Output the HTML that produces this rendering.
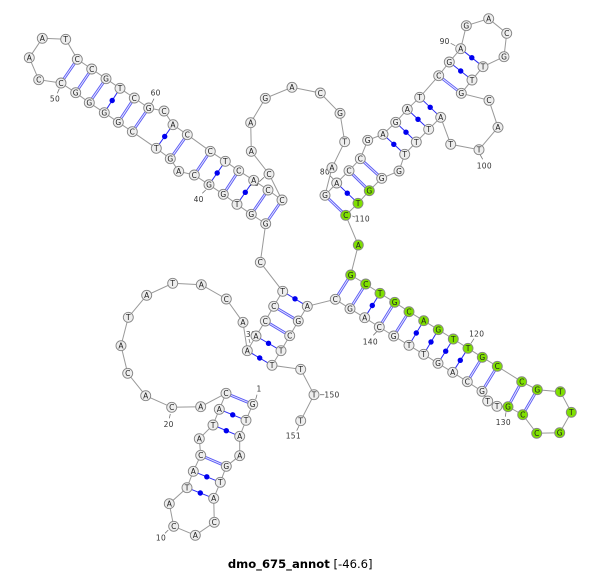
<!DOCTYPE html>
<html><head><meta charset="utf-8"><style>
html,body{margin:0;padding:0;background:#fff;width:600px;height:572px;overflow:hidden}
svg{display:block}
.n circle{fill:#eee;stroke:#858585;stroke-width:.9}
.n circle.g{fill:#7fe000}
.n text{font:7.5px "DejaVu Sans",sans-serif;fill:#222;text-anchor:middle}
.l text{font:7.5px "DejaVu Sans",sans-serif;fill:#333;text-anchor:middle;letter-spacing:.3px}
.l path{stroke:#777;stroke-width:.8;fill:none}
</style></head><body>
<svg width="600" height="572" viewBox="0 0 600 572" xmlns="http://www.w3.org/2000/svg">
<polyline fill="none" stroke="#999" stroke-width="1" points="252.7,404.3 246,420.3 239.7,436.3 239.7,455.7 226.3,466.3 220.3,482.3 213.7,498.3 214.3,522.3 195.3,535.3 173.7,526.3 169.3,503.7 187,487.7 193.3,471.3 200.7,455.3 199.3,438.7 213,425 219.3,409.3 226,393.3 200.7,406.7 171.7,407.3 145.7,395.7 127.7,373.3 121,345.7 128.3,317.3 146.7,295.3 172.7,283.3 201.3,284.7 226.3,299 243,322.3 247.3,350.7 256,336 265.3,321 273.7,306.3 282.7,291.3 260.3,262.3 265.7,223.7 251.3,214.3 237,204.3 223.3,194.3 209,184.7 194.3,175 178.7,171.3 170.3,158.7 156.3,148.3 132.3,131.7 118.3,122.3 104.3,112.7 89.3,102.7 75.7,92.7 61,83 38.7,79.7 29.3,57.7 42.3,38.3 65.7,39.3 77.3,59.3 91.7,69 106,78.7 120,88.3 134.3,98 148.7,108 164,111 173,124.7 187.3,134.7 210.3,151.3 225.3,161.3 238.7,170.7 253.7,180.3 268,190 282,200 269,174 251.3,151.3 250.7,122.7 265.3,98.3 292,87.3 320.3,93 340,113.3 344.7,141.7 332,167.7 325,195.3 336.7,183 349,170.7 360.3,158.7 367.7,140.3 383,134.3 395.7,122.3 407.3,109.3 419.7,97.3 438.7,75.7 449.3,62 460.7,48.7 466.3,25.7 488.7,18.7 506.7,33.3 504,56.7 483,66.7 472,80 461.3,93.3 489,100.3 498,127.3 479,149.7 450.7,144.3 440.7,117.3 428.7,129.3 416.3,142 404.7,154.3 399,171 381.7,178.3 369.3,190.7 358,203.3 345.7,215.3 358.3,245 350.7,275 365.7,284 380,293.3 394.7,302.3 409,311.7 423.7,320.7 438.3,329.7 453.3,339 468,348.3 482.3,357.3 497.3,366.3 521.7,381.7 537.3,389.7 560.3,391.7 571.3,412.3 559.7,432.7 536.7,433.3 522.7,414.7 508,406.7 497,406.3 487.7,401 482,391.3 467.3,381.7 452.7,372.3 438,363.3 423.7,354.3 409,345.3 393.7,336 379.3,327 364.7,317.7 350,308.7 335.3,299.3 307.3,306.3 298.3,321 289.7,335.7 281,350.7 272,365.3 300.7,369.3 314,394.7 300.7,420.7"/>
<path fill="none" stroke="#5a5af5" stroke-width="2.8" d="M252.7 404.3L226 393.3M226.3 466.3L200.7 455.3M265.3 321L289.7 335.7M273.7 306.3L298.3 321M265.7 223.7L282 200M251.3 214.3L268 190M223.3 194.3L238.7 170.7M194.3 175L210.3 151.3M170.3 158.7L187.3 134.7M132.3 131.7L148.7 108M118.3 122.3L134.3 98M89.3 102.7L106 78.7M75.7 92.7L91.7 69M61 83L77.3 59.3M325 195.3L345.7 215.3M349 170.7L369.3 190.7M360.3 158.7L381.7 178.3M438.7 75.7L461.3 93.3M350.7 275L335.3 299.3M365.7 284L350 308.7M394.7 302.3L379.3 327M409 311.7L393.7 336M482.3 357.3L467.3 381.7M497.3 366.3L482 391.3M521.7 381.7L508 406.7M537.3 389.7L522.7 414.7"/>
<path fill="none" stroke="#e4e4ff" stroke-width="1" d="M252.7 404.3L226 393.3M226.3 466.3L200.7 455.3M265.3 321L289.7 335.7M273.7 306.3L298.3 321M265.7 223.7L282 200M251.3 214.3L268 190M223.3 194.3L238.7 170.7M194.3 175L210.3 151.3M170.3 158.7L187.3 134.7M132.3 131.7L148.7 108M118.3 122.3L134.3 98M89.3 102.7L106 78.7M75.7 92.7L91.7 69M61 83L77.3 59.3M325 195.3L345.7 215.3M349 170.7L369.3 190.7M360.3 158.7L381.7 178.3M438.7 75.7L461.3 93.3M350.7 275L335.3 299.3M365.7 284L350 308.7M394.7 302.3L379.3 327M409 311.7L393.7 336M482.3 357.3L467.3 381.7M497.3 366.3L482 391.3M521.7 381.7L508 406.7M537.3 389.7L522.7 414.7"/>
<path fill="none" stroke="#2a2af5" stroke-width="1" d="M246 420.3L219.3 409.3M239.7 436.3L213 425M220.3 482.3L193.3 471.3M213.7 498.3L187 487.7M247.3 350.7L272 365.3M256 336L281 350.7M282.7 291.3L307.3 306.3M237 204.3L253.7 180.3M209 184.7L225.3 161.3M156.3 148.3L173 124.7M104.3 112.7L120 88.3M336.7 183L358 203.3M383 134.3L404.7 154.3M395.7 122.3L416.3 142M407.3 109.3L428.7 129.3M419.7 97.3L440.7 117.3M449.3 62L472 80M460.7 48.7L483 66.7M380 293.3L364.7 317.7M423.7 320.7L409 345.3M438.3 329.7L423.7 354.3M453.3 339L438 363.3M468 348.3L452.7 372.3"/>
<g fill="#0000f0">
<circle cx="232.7" cy="414.8" r="2.7"/><circle cx="226.3" cy="430.7" r="2.7"/><circle cx="206.8" cy="476.8" r="2.7"/><circle cx="200.3" cy="493" r="2.7"/><circle cx="259.7" cy="358" r="2.7"/><circle cx="268.5" cy="343.3" r="2.7"/><circle cx="295" cy="298.8" r="2.7"/><circle cx="245.3" cy="192.3" r="2.7"/><circle cx="217.2" cy="173" r="2.7"/><circle cx="164.7" cy="136.5" r="2.7"/><circle cx="112.2" cy="100.5" r="2.7"/><circle cx="347.3" cy="193.2" r="2.7"/><circle cx="393.8" cy="144.3" r="2.7"/><circle cx="406" cy="132.2" r="2.7"/><circle cx="418" cy="119.3" r="2.7"/><circle cx="430.2" cy="107.3" r="2.7"/><circle cx="460.7" cy="71" r="2.7"/><circle cx="471.8" cy="57.7" r="2.7"/><circle cx="372.3" cy="305.5" r="2.7"/><circle cx="416.3" cy="333" r="2.7"/><circle cx="431" cy="342" r="2.7"/><circle cx="445.7" cy="351.2" r="2.7"/><circle cx="460.3" cy="360.3" r="2.7"/>
</g>
<g class="l">
<path d="M257 394.7L255.7 399.3M165 533.3L168.3 530M169.3 418.3L170.3 414M249 339L250 343M202.3 193.3L205.7 190M57.3 93.3L59.3 88.7M151.7 103.3L154 98.7M259.3 181.7L264 177.3M330 175.7L333.3 179M450.7 43.3L455.3 45.7M480.3 155L482.7 159.3M352.3 216L355 217M471 343.3L474 338.7M506 412.3L505.3 416.7M373.3 335.3L376.7 331.7M320 394.7L324.3 394.7M296.7 430.7L299 426"/>
<text x="259" y="391.5">1</text><text x="161" y="540.5">10</text><text x="168.7" y="427">20</text><text x="251" y="337">30</text><text x="198.7" y="202">40</text><text x="55" y="101.5">50</text><text x="155.7" y="95.5">60</text><text x="254" y="186">70</text><text x="325" y="174.5">80</text><text x="444.7" y="44">90</text><text x="484.3" y="168.5">100</text><text x="362.3" y="221.5">110</text><text x="476.7" y="336.5">120</text><text x="503.3" y="425">130</text><text x="370.3" y="344.5">140</text><text x="332" y="397.5">150</text><text x="293.3" y="438.5">151</text>
</g>
<g class="n">
<circle cx="252.7" cy="404.3" r="5"/><text x="252.7" y="407.1">G</text>
<circle cx="246" cy="420.3" r="5"/><text x="246" y="423.1">T</text>
<circle cx="239.7" cy="436.3" r="5"/><text x="239.7" y="439.1">A</text>
<circle cx="239.7" cy="455.7" r="5"/><text x="239.7" y="458.5">A</text>
<circle cx="226.3" cy="466.3" r="5"/><text x="226.3" y="469.1">G</text>
<circle cx="220.3" cy="482.3" r="5"/><text x="220.3" y="485.1">T</text>
<circle cx="213.7" cy="498.3" r="5"/><text x="213.7" y="501.1">A</text>
<circle cx="214.3" cy="522.3" r="5"/><text x="214.3" y="525.1">C</text>
<circle cx="195.3" cy="535.3" r="5"/><text x="195.3" y="538.1">A</text>
<circle cx="173.7" cy="526.3" r="5"/><text x="173.7" y="529.1">C</text>
<circle cx="169.3" cy="503.7" r="5"/><text x="169.3" y="506.5">A</text>
<circle cx="187" cy="487.7" r="5"/><text x="187" y="490.5">T</text>
<circle cx="193.3" cy="471.3" r="5"/><text x="193.3" y="474.1">A</text>
<circle cx="200.7" cy="455.3" r="5"/><text x="200.7" y="458.1">C</text>
<circle cx="199.3" cy="438.7" r="5"/><text x="199.3" y="441.5">A</text>
<circle cx="213" cy="425" r="5"/><text x="213" y="427.8">T</text>
<circle cx="219.3" cy="409.3" r="5"/><text x="219.3" y="412.1">A</text>
<circle cx="226" cy="393.3" r="5"/><text x="226" y="396.1">C</text>
<circle cx="200.7" cy="406.7" r="5"/><text x="200.7" y="409.5">A</text>
<circle cx="171.7" cy="407.3" r="5"/><text x="171.7" y="410.1">C</text>
<circle cx="145.7" cy="395.7" r="5"/><text x="145.7" y="398.5">A</text>
<circle cx="127.7" cy="373.3" r="5"/><text x="127.7" y="376.1">C</text>
<circle cx="121" cy="345.7" r="5"/><text x="121" y="348.5">A</text>
<circle cx="128.3" cy="317.3" r="5"/><text x="128.3" y="320.1">T</text>
<circle cx="146.7" cy="295.3" r="5"/><text x="146.7" y="298.1">A</text>
<circle cx="172.7" cy="283.3" r="5"/><text x="172.7" y="286.1">T</text>
<circle cx="201.3" cy="284.7" r="5"/><text x="201.3" y="287.5">A</text>
<circle cx="226.3" cy="299" r="5"/><text x="226.3" y="301.8">C</text>
<circle cx="243" cy="322.3" r="5"/><text x="243" y="325.1">A</text>
<circle cx="247.3" cy="350.7" r="5"/><text x="247.3" y="353.5">A</text>
<circle cx="256" cy="336" r="5"/><text x="256" y="338.8">A</text>
<circle cx="265.3" cy="321" r="5"/><text x="265.3" y="323.8">C</text>
<circle cx="273.7" cy="306.3" r="5"/><text x="273.7" y="309.1">C</text>
<circle cx="282.7" cy="291.3" r="5"/><text x="282.7" y="294.1">T</text>
<circle cx="260.3" cy="262.3" r="5"/><text x="260.3" y="265.1">C</text>
<circle cx="265.7" cy="223.7" r="5"/><text x="265.7" y="226.5">G</text>
<circle cx="251.3" cy="214.3" r="5"/><text x="251.3" y="217.1">G</text>
<circle cx="237" cy="204.3" r="5"/><text x="237" y="207.1">T</text>
<circle cx="223.3" cy="194.3" r="5"/><text x="223.3" y="197.1">G</text>
<circle cx="209" cy="184.7" r="5"/><text x="209" y="187.5">G</text>
<circle cx="194.3" cy="175" r="5"/><text x="194.3" y="177.8">C</text>
<circle cx="178.7" cy="171.3" r="5"/><text x="178.7" y="174.1">A</text>
<circle cx="170.3" cy="158.7" r="5"/><text x="170.3" y="161.5">G</text>
<circle cx="156.3" cy="148.3" r="5"/><text x="156.3" y="151.1">T</text>
<circle cx="132.3" cy="131.7" r="5"/><text x="132.3" y="134.5">C</text>
<circle cx="118.3" cy="122.3" r="5"/><text x="118.3" y="125.1">G</text>
<circle cx="104.3" cy="112.7" r="5"/><text x="104.3" y="115.5">G</text>
<circle cx="89.3" cy="102.7" r="5"/><text x="89.3" y="105.5">G</text>
<circle cx="75.7" cy="92.7" r="5"/><text x="75.7" y="95.5">G</text>
<circle cx="61" cy="83" r="5"/><text x="61" y="85.8">C</text>
<circle cx="38.7" cy="79.7" r="5"/><text x="38.7" y="82.5">C</text>
<circle cx="29.3" cy="57.7" r="5"/><text x="29.3" y="60.5">A</text>
<circle cx="42.3" cy="38.3" r="5"/><text x="42.3" y="41.1">A</text>
<circle cx="65.7" cy="39.3" r="5"/><text x="65.7" y="42.1">T</text>
<circle cx="77.3" cy="59.3" r="5"/><text x="77.3" y="62.1">C</text>
<circle cx="91.7" cy="69" r="5"/><text x="91.7" y="71.8">C</text>
<circle cx="106" cy="78.7" r="5"/><text x="106" y="81.5">G</text>
<circle cx="120" cy="88.3" r="5"/><text x="120" y="91.1">T</text>
<circle cx="134.3" cy="98" r="5"/><text x="134.3" y="100.8">C</text>
<circle cx="148.7" cy="108" r="5"/><text x="148.7" y="110.8">G</text>
<circle cx="164" cy="111" r="5"/><text x="164" y="113.8">C</text>
<circle cx="173" cy="124.7" r="5"/><text x="173" y="127.5">A</text>
<circle cx="187.3" cy="134.7" r="5"/><text x="187.3" y="137.5">C</text>
<circle cx="210.3" cy="151.3" r="5"/><text x="210.3" y="154.1">C</text>
<circle cx="225.3" cy="161.3" r="5"/><text x="225.3" y="164.1">T</text>
<circle cx="238.7" cy="170.7" r="5"/><text x="238.7" y="173.5">C</text>
<circle cx="253.7" cy="180.3" r="5"/><text x="253.7" y="183.1">A</text>
<circle cx="268" cy="190" r="5"/><text x="268" y="192.8">C</text>
<circle cx="282" cy="200" r="5"/><text x="282" y="202.8">C</text>
<circle cx="269" cy="174" r="5"/><text x="269" y="176.8">C</text>
<circle cx="251.3" cy="151.3" r="5"/><text x="251.3" y="154.1">A</text>
<circle cx="250.7" cy="122.7" r="5"/><text x="250.7" y="125.5">A</text>
<circle cx="265.3" cy="98.3" r="5"/><text x="265.3" y="101.1">G</text>
<circle cx="292" cy="87.3" r="5"/><text x="292" y="90.1">A</text>
<circle cx="320.3" cy="93" r="5"/><text x="320.3" y="95.8">C</text>
<circle cx="340" cy="113.3" r="5"/><text x="340" y="116.1">G</text>
<circle cx="344.7" cy="141.7" r="5"/><text x="344.7" y="144.5">T</text>
<circle cx="332" cy="167.7" r="5"/><text x="332" y="170.5">A</text>
<circle cx="325" cy="195.3" r="5"/><text x="325" y="198.1">G</text>
<circle cx="336.7" cy="183" r="5"/><text x="336.7" y="185.8">A</text>
<circle cx="349" cy="170.7" r="5"/><text x="349" y="173.5">C</text>
<circle cx="360.3" cy="158.7" r="5"/><text x="360.3" y="161.5">C</text>
<circle cx="367.7" cy="140.3" r="5"/><text x="367.7" y="143.1">G</text>
<circle cx="383" cy="134.3" r="5"/><text x="383" y="137.1">A</text>
<circle cx="395.7" cy="122.3" r="5"/><text x="395.7" y="125.1">G</text>
<circle cx="407.3" cy="109.3" r="5"/><text x="407.3" y="112.1">A</text>
<circle cx="419.7" cy="97.3" r="5"/><text x="419.7" y="100.1">T</text>
<circle cx="438.7" cy="75.7" r="5"/><text x="438.7" y="78.5">C</text>
<circle cx="449.3" cy="62" r="5"/><text x="449.3" y="64.8">G</text>
<circle cx="460.7" cy="48.7" r="5"/><text x="460.7" y="51.5">A</text>
<circle cx="466.3" cy="25.7" r="5"/><text x="466.3" y="28.5">G</text>
<circle cx="488.7" cy="18.7" r="5"/><text x="488.7" y="21.5">A</text>
<circle cx="506.7" cy="33.3" r="5"/><text x="506.7" y="36.1">C</text>
<circle cx="504" cy="56.7" r="5"/><text x="504" y="59.5">G</text>
<circle cx="483" cy="66.7" r="5"/><text x="483" y="69.5">T</text>
<circle cx="472" cy="80" r="5"/><text x="472" y="82.8">T</text>
<circle cx="461.3" cy="93.3" r="5"/><text x="461.3" y="96.1">G</text>
<circle cx="489" cy="100.3" r="5"/><text x="489" y="103.1">C</text>
<circle cx="498" cy="127.3" r="5"/><text x="498" y="130.1">A</text>
<circle cx="479" cy="149.7" r="5"/><text x="479" y="152.5">T</text>
<circle cx="450.7" cy="144.3" r="5"/><text x="450.7" y="147.1">T</text>
<circle cx="440.7" cy="117.3" r="5"/><text x="440.7" y="120.1">A</text>
<circle cx="428.7" cy="129.3" r="5"/><text x="428.7" y="132.1">T</text>
<circle cx="416.3" cy="142" r="5"/><text x="416.3" y="144.8">T</text>
<circle cx="404.7" cy="154.3" r="5"/><text x="404.7" y="157.1">T</text>
<circle cx="399" cy="171" r="5"/><text x="399" y="173.8">G</text>
<circle cx="381.7" cy="178.3" r="5"/><text x="381.7" y="181.1">G</text>
<circle class="g" cx="369.3" cy="190.7" r="5"/><text x="369.3" y="193.5">G</text>
<circle class="g" cx="358" cy="203.3" r="5"/><text x="358" y="206.1">T</text>
<circle class="g" cx="345.7" cy="215.3" r="5"/><text x="345.7" y="218.1">C</text>
<circle class="g" cx="358.3" cy="245" r="5"/><text x="358.3" y="247.8">A</text>
<circle class="g" cx="350.7" cy="275" r="5"/><text x="350.7" y="277.8">G</text>
<circle class="g" cx="365.7" cy="284" r="5"/><text x="365.7" y="286.8">C</text>
<circle class="g" cx="380" cy="293.3" r="5"/><text x="380" y="296.1">T</text>
<circle class="g" cx="394.7" cy="302.3" r="5"/><text x="394.7" y="305.1">G</text>
<circle class="g" cx="409" cy="311.7" r="5"/><text x="409" y="314.5">C</text>
<circle class="g" cx="423.7" cy="320.7" r="5"/><text x="423.7" y="323.5">A</text>
<circle class="g" cx="438.3" cy="329.7" r="5"/><text x="438.3" y="332.5">G</text>
<circle class="g" cx="453.3" cy="339" r="5"/><text x="453.3" y="341.8">T</text>
<circle class="g" cx="468" cy="348.3" r="5"/><text x="468" y="351.1">T</text>
<circle class="g" cx="482.3" cy="357.3" r="5"/><text x="482.3" y="360.1">G</text>
<circle class="g" cx="497.3" cy="366.3" r="5"/><text x="497.3" y="369.1">C</text>
<circle class="g" cx="521.7" cy="381.7" r="5"/><text x="521.7" y="384.5">C</text>
<circle class="g" cx="537.3" cy="389.7" r="5"/><text x="537.3" y="392.5">G</text>
<circle class="g" cx="560.3" cy="391.7" r="5"/><text x="560.3" y="394.5">T</text>
<circle class="g" cx="571.3" cy="412.3" r="5"/><text x="571.3" y="415.1">T</text>
<circle class="g" cx="559.7" cy="432.7" r="5"/><text x="559.7" y="435.5">G</text>
<circle class="g" cx="536.7" cy="433.3" r="5"/><text x="536.7" y="436.1">C</text>
<circle class="g" cx="522.7" cy="414.7" r="5"/><text x="522.7" y="417.5">C</text>
<circle class="g" cx="508" cy="406.7" r="5"/><text x="508" y="409.5">G</text>
<circle cx="497" cy="406.3" r="5"/><text x="497" y="409.1">T</text>
<circle cx="487.7" cy="401" r="5"/><text x="487.7" y="403.8">T</text>
<circle cx="482" cy="391.3" r="5"/><text x="482" y="394.1">G</text>
<circle cx="467.3" cy="381.7" r="5"/><text x="467.3" y="384.5">C</text>
<circle cx="452.7" cy="372.3" r="5"/><text x="452.7" y="375.1">A</text>
<circle cx="438" cy="363.3" r="5"/><text x="438" y="366.1">G</text>
<circle cx="423.7" cy="354.3" r="5"/><text x="423.7" y="357.1">T</text>
<circle cx="409" cy="345.3" r="5"/><text x="409" y="348.1">T</text>
<circle cx="393.7" cy="336" r="5"/><text x="393.7" y="338.8">G</text>
<circle cx="379.3" cy="327" r="5"/><text x="379.3" y="329.8">C</text>
<circle cx="364.7" cy="317.7" r="5"/><text x="364.7" y="320.5">A</text>
<circle cx="350" cy="308.7" r="5"/><text x="350" y="311.5">G</text>
<circle cx="335.3" cy="299.3" r="5"/><text x="335.3" y="302.1">C</text>
<circle cx="307.3" cy="306.3" r="5"/><text x="307.3" y="309.1">A</text>
<circle cx="298.3" cy="321" r="5"/><text x="298.3" y="323.8">G</text>
<circle cx="289.7" cy="335.7" r="5"/><text x="289.7" y="338.5">C</text>
<circle cx="281" cy="350.7" r="5"/><text x="281" y="353.5">T</text>
<circle cx="272" cy="365.3" r="5"/><text x="272" y="368.1">T</text>
<circle cx="300.7" cy="369.3" r="5"/><text x="300.7" y="372.1">T</text>
<circle cx="314" cy="394.7" r="5"/><text x="314" y="397.5">T</text>
<circle cx="300.7" cy="420.7" r="5"/><text x="300.7" y="423.5">T</text>
</g>
<text x="300.2" y="568" text-anchor="middle" font-family="'DejaVu Sans',sans-serif" font-size="11.6" fill="#000"><tspan font-weight="bold">dmo_675_annot</tspan> [-46.6]</text>
</svg>
</body></html>
